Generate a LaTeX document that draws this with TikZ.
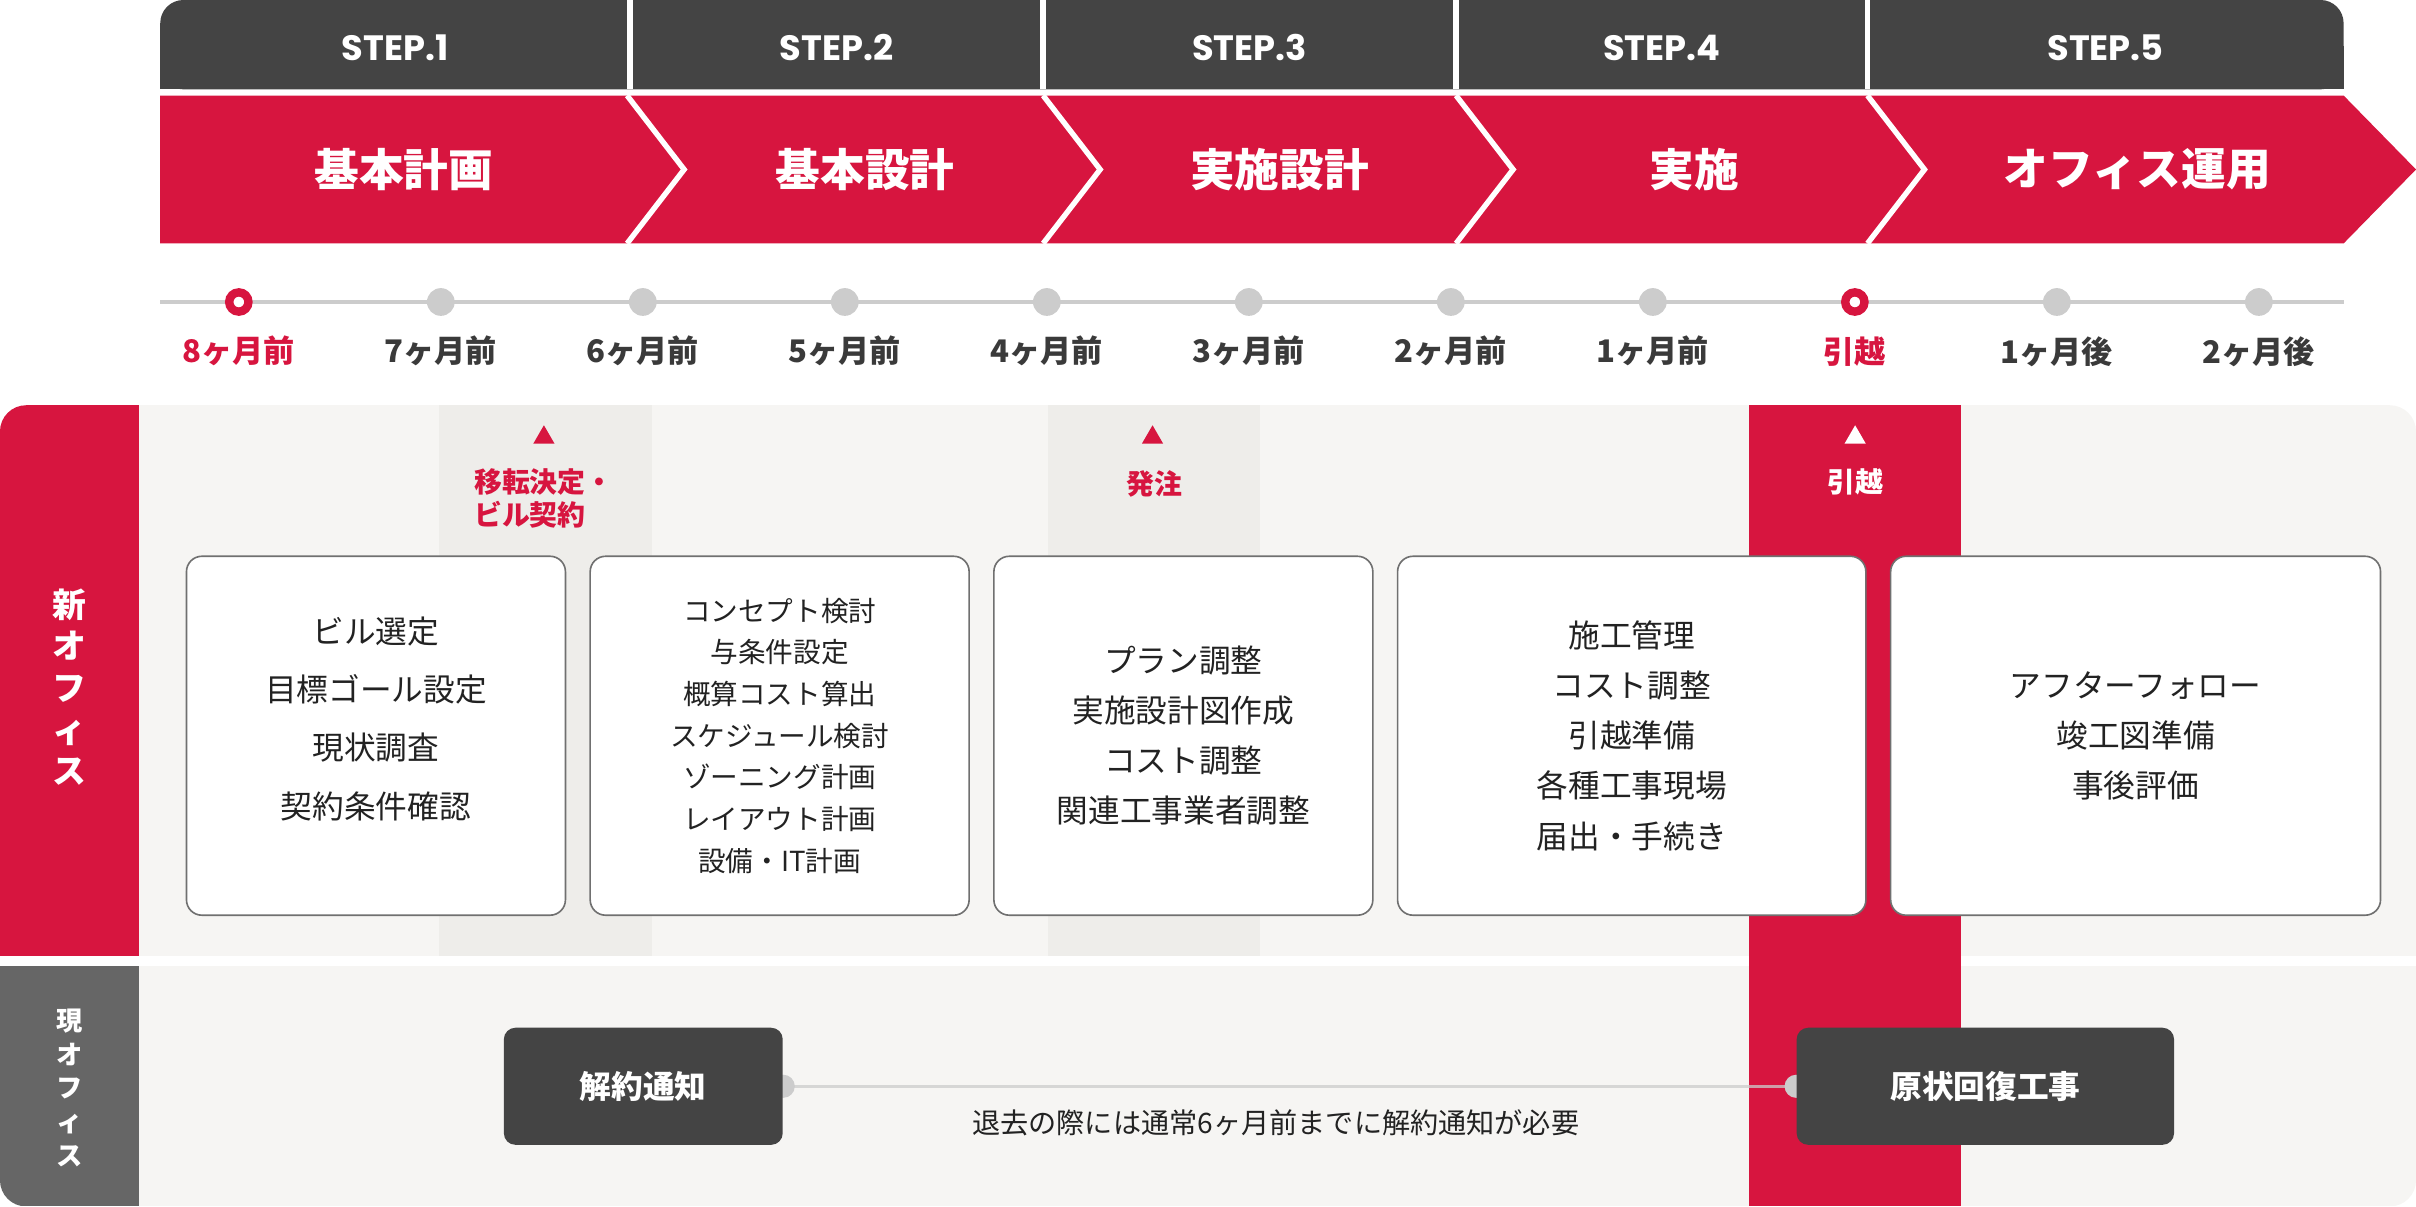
\documentclass[tikz,border=0pt]{standalone}
\usepackage{fontspec}
\setmainfont{Noto Sans CJK JP}
\newfontfamily\stepfont{Poppins}
\usetikzlibrary{calc, shapes.geometric}
\definecolor{sred}{HTML}{D7153F}
\definecolor{sdark}{HTML}{444444}
\definecolor{spanel}{HTML}{F6F5F3}
\definecolor{shigh}{HTML}{EEEDEA}
\definecolor{sline}{HTML}{CCCCCC}
\definecolor{sside}{HTML}{666666}
\definecolor{sbord}{HTML}{707070}
\definecolor{stext}{HTML}{222222}
\definecolor{slabel}{HTML}{3A3A3A}
\pgfdeclarelayer{back}
\pgfsetlayers{back,main}

\begin{document}
\begin{tikzpicture}[x=0.02cm, y=-0.02cm,
    STP/.style={text=white, font=\stepfont\bfseries\fontsize{13}{15}\selectfont},
    PHS/.style={text=white, font=\bfseries\fontsize{16.5}{20}\selectfont},
    DOT/.style={circle, fill=sline, inner sep=0, minimum size=0.36cm},
    RDOT/.style={circle, draw=sred, fill=white, line width=3.1pt, inner sep=0, minimum size=0.25cm},
    MON/.style={text=slabel, font=\bfseries\fontsize{11.5}{14}\selectfont},
    TRI/.style={regular polygon, regular polygon sides=3, inner sep=0, minimum size=0.32cm},
    MIL/.style={text=sred, align=left, font=\bfseries\fontsize{10.3}{12}\selectfont},
    BOX/.style={draw=sbord, fill=white, line width=0.6pt, rounded corners=0.2cm, minimum height=4.66cm, align=center, text=stext, font=\fontsize{11.7}{18.5}\selectfont},
    SIDE/.style={text=white, align=center, font=\bfseries\fontsize{12.5}{15.4}\selectfont},
    DBOX/.style={fill=sdark, rounded corners=0.15cm, minimum height=1.52cm, text=white, font=\bfseries\fontsize{11.7}{14}\selectfont},
    KNOB/.style={circle, fill=sline, inner sep=0, minimum size=0.3cm}
    ]
    \useasboundingbox (0,0) rectangle (1568,783);
    % step header
    \fill[sdark, rounded corners=0.3cm] (104,0) rectangle (1521,58);
    \fill[sdark] (104,30) rectangle (1521,58);
    \draw[white, line width=2pt] (409,0) -- (409,58) (677,0) -- (677,58) (945,0) -- (945,58) (1212,0) -- (1212,58);
    \node[STP] (s1) at (256.5,31) {STEP.1};
    \node[STP] (s2) at (543,31) {STEP.2};
    \node[STP] (s3) at (811,31) {STEP.3};
    \node[STP] (s4) at (1078.5,31) {STEP.4};
    \node[STP] (s5) at (1366.5,31) {STEP.5};
    % phase arrows
    \fill[sred] (104,62) -- (1521,62) -- (1568,110) -- (1521,158) -- (104,158) -- cycle;
    \draw[white, line width=2pt] (407,62) -- (444,110) -- (407,158) (677,62) -- (714,110) -- (677,158)
        (945,62) -- (982,110) -- (945,158) (1212,62) -- (1249,110) -- (1212,158);
    \node[PHS] (p1) at (262,110) {基本計画};
    \node[PHS] (p2) at (561.5,110) {基本設計};
    \node[PHS] (p3) at (830.5,110) {実施設計};
    \node[PHS] (p4) at (1099.5,110) {実施};
    \node[PHS] (p5) at (1387,110) {オフィス運用};
    % timeline
    \draw[sline, line width=1.25pt] (104,196) -- (1521,196);
    \foreach \i in {2,...,8,10,11}
        \node[DOT] (d\i) at ({155+131.1*(\i-1)},196) {};
    \node[RDOT] (d1) at (155,196) {};
    \node[RDOT] (d9) at (1203.8,196) {};
    \node[MON, text=sred] (l1) at ($(d1)+(0,32)$) {8ヶ月前};
    \node[MON, text=sred] (l9) at ($(d9)+(0,32)$) {引越};
    \foreach \i/\t in {2/7ヶ月前,3/6ヶ月前,4/5ヶ月前,5/4ヶ月前,6/3ヶ月前,7/2ヶ月前,8/1ヶ月前,10/1ヶ月後,11/2ヶ月後}
        \node[MON] (l\i) at ($(d\i)+(0,32)$) {\t};
    % panel
    \begin{pgfonlayer}{back}
    \begin{scope}
        \clip[rounded corners=0.34cm] (0,263) rectangle (1568,783);
        \fill[spanel] (0,263) rectangle (1568,620.5);
        \fill[spanel] (0,627) rectangle (1568,783);
        \fill[shigh] (285,263) rectangle (423,620.5);
        \fill[shigh] (680,263) rectangle (818,620.5);
        \fill[sred] (0,263) rectangle (90,620.5);
        \fill[sside] (0,627) rectangle (90,783);
        \fill[sred] (1135,263) rectangle (1273,783);
    \end{scope}
    \end{pgfonlayer}
    \node[SIDE] (new) at (45,446) {新\\オ\\フ\\ィ\\ス};
    \node[SIDE, font=\bfseries\fontsize{9.7}{12.5}\selectfont] (cur) at (45,706) {現\\オ\\フ\\ィ\\ス};
    % milestones
    \node[TRI, fill=sred] (t1) at (353,284) {};
    \node[TRI, fill=sred] (t2) at (748,284) {};
    \node[TRI, fill=white] (t3) at (1204,284) {};
    \node[MIL] (m1) at (353,323.5) {移転決定・\\ビル契約};
    \node[MIL] (m2) at (749,314) {発注};
    \node[MIL, text=white] (m3) at (1204,313) {引越};
    % tasks
    \node[BOX, minimum width=4.92cm, font=\fontsize{11.7}{21.5}\selectfont] (b1) at (244,477.5) {ビル選定\\目標ゴール設定\\現状調査\\契約条件確認\\[-8pt]\mbox{}};
    \node[BOX, minimum width=4.92cm, font=\fontsize{10.2}{15.4}\selectfont] (b2) at (506,477.5) {コンセプト検討\\与条件設定\\概算コスト算出\\スケジュール検討\\ゾーニング計画\\レイアウト計画\\設備・IT計画};
    \node[BOX, minimum width=4.92cm] (b3) at (768,477.5) {プラン調整\\実施設計図作成\\コスト調整\\関連工事業者調整};
    \node[BOX, minimum width=6.08cm] (b4) at (1059,477.5) {施工管理\\コスト調整\\引越準備\\各種工事現場\\届出・手続き};
    \node[BOX, minimum width=6.36cm] (b5) at (1386,477.5) {アフターフォロー\\竣工図準備\\事後評価};
    % current office
    \node[DBOX, minimum width=3.62cm] (n1) at (417.5,705) {解約通知};
    \node[DBOX, minimum width=4.9cm] (n2) at (1288.5,705) {原状回復工事};
    \begin{pgfonlayer}{back}
        \draw[sline, line width=1pt, opacity=0.75] (n1.east) -- (n2.west);
        \node[KNOB] (k1) at (n1.east) {};
        \node[KNOB] (k2) at (n2.west) {};
    \end{pgfonlayer}
    \node[text=stext, font=\fontsize{10.4}{12}\selectfont] (note) at (828,728.5) {退去の際には通常6ヶ月前までに解約通知が必要};
\end{tikzpicture}
\end{document}
